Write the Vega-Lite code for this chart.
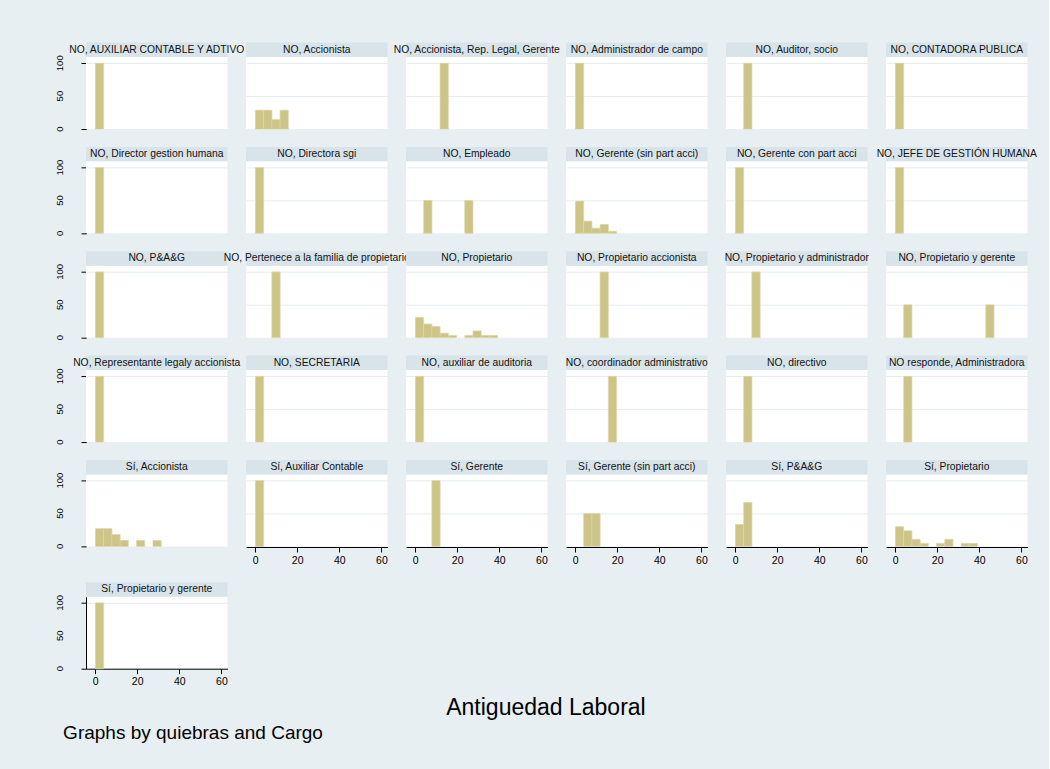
{
  "$schema": "https://vega.github.io/schema/vega-lite/v6.json",
  "background": "#e8eff2",
  "padding": {"left": 55, "top": 41, "right": 12, "bottom": 30},
  "config": {
    "font": "Liberation Sans",
    "view": {"stroke": null, "fill": "white"},
    "title": {"font": "Liberation Sans", "fontWeight": "normal", "color": "black"},
    "axis": {"labelFont": "Liberation Sans", "labelColor": "black"},
    "header": {"labels": false, "title": null, "labelExpr": "''", "labelColor": "transparent", "labelFontSize": 1, "labelPadding": 0, "titlePadding": 0}
  },
  "datasets": {
    "h": [
      {"ord": 1, "panel": "NO, AUXILIAR CONTABLE Y ADTIVO", "start": 0.2, "end": 4.1, "pct": 100},
      {"ord": 2, "panel": "NO, Accionista", "start": 0.2, "end": 4.1, "pct": 28.6},
      {"ord": 2, "panel": "NO, Accionista", "start": 4.1, "end": 8.0, "pct": 28.6},
      {"ord": 2, "panel": "NO, Accionista", "start": 8.0, "end": 11.9, "pct": 14.3},
      {"ord": 2, "panel": "NO, Accionista", "start": 11.9, "end": 15.8, "pct": 28.6},
      {"ord": 3, "panel": "NO, Accionista, Rep. Legal, Gerente", "start": 11.9, "end": 15.8, "pct": 100},
      {"ord": 4, "panel": "NO, Administrador de campo", "start": 0.2, "end": 4.1, "pct": 100},
      {"ord": 5, "panel": "NO, Auditor, socio", "start": 4.1, "end": 8.0, "pct": 100},
      {"ord": 6, "panel": "NO, CONTADORA PUBLICA", "start": 0.2, "end": 4.1, "pct": 100},
      {"ord": 7, "panel": "NO, Director gestion humana", "start": 0.2, "end": 4.1, "pct": 100},
      {"ord": 8, "panel": "NO, Directora sgi", "start": 0.2, "end": 4.1, "pct": 100},
      {"ord": 9, "panel": "NO, Empleado", "start": 4.1, "end": 8.0, "pct": 50},
      {"ord": 9, "panel": "NO, Empleado", "start": 23.6, "end": 27.5, "pct": 50},
      {"ord": 10, "panel": "NO, Gerente (sin part acci)", "start": 0.2, "end": 4.1, "pct": 49},
      {"ord": 10, "panel": "NO, Gerente (sin part acci)", "start": 4.1, "end": 8.0, "pct": 18.6},
      {"ord": 10, "panel": "NO, Gerente (sin part acci)", "start": 8.0, "end": 11.9, "pct": 7.8},
      {"ord": 10, "panel": "NO, Gerente (sin part acci)", "start": 11.9, "end": 15.8, "pct": 13.5},
      {"ord": 10, "panel": "NO, Gerente (sin part acci)", "start": 15.8, "end": 19.7, "pct": 3.1},
      {"ord": 11, "panel": "NO, Gerente con part acci", "start": 0.2, "end": 4.1, "pct": 100},
      {"ord": 12, "panel": "NO, JEFE DE GESTIÓN HUMANA", "start": 0.2, "end": 4.1, "pct": 100},
      {"ord": 13, "panel": "NO, P&A&G", "start": 0.2, "end": 4.1, "pct": 100},
      {"ord": 14, "panel": "NO, Pertenece a la familia de propietario", "start": 8.0, "end": 11.9, "pct": 100},
      {"ord": 15, "panel": "NO, Propietario", "start": 0.2, "end": 4.1, "pct": 31},
      {"ord": 15, "panel": "NO, Propietario", "start": 4.1, "end": 8.0, "pct": 20.7},
      {"ord": 15, "panel": "NO, Propietario", "start": 8.0, "end": 11.9, "pct": 17.2},
      {"ord": 15, "panel": "NO, Propietario", "start": 11.9, "end": 15.8, "pct": 6.9},
      {"ord": 15, "panel": "NO, Propietario", "start": 15.8, "end": 19.7, "pct": 3.4},
      {"ord": 15, "panel": "NO, Propietario", "start": 23.6, "end": 27.5, "pct": 3.4},
      {"ord": 15, "panel": "NO, Propietario", "start": 27.5, "end": 31.4, "pct": 10.3},
      {"ord": 15, "panel": "NO, Propietario", "start": 31.4, "end": 35.3, "pct": 3.4},
      {"ord": 15, "panel": "NO, Propietario", "start": 35.3, "end": 39.2, "pct": 3.4},
      {"ord": 16, "panel": "NO, Propietario accionista", "start": 11.9, "end": 15.8, "pct": 100},
      {"ord": 17, "panel": "NO, Propietario y administrador", "start": 8.0, "end": 11.9, "pct": 100},
      {"ord": 18, "panel": "NO, Propietario y gerente", "start": 4.1, "end": 8.0, "pct": 50},
      {"ord": 18, "panel": "NO, Propietario y gerente", "start": 43.1, "end": 47.0, "pct": 50},
      {"ord": 19, "panel": "NO, Representante legaly accionista", "start": 0.2, "end": 4.1, "pct": 100},
      {"ord": 20, "panel": "NO, SECRETARIA", "start": 0.2, "end": 4.1, "pct": 100},
      {"ord": 21, "panel": "NO, auxiliar de auditoria", "start": 0.2, "end": 4.1, "pct": 100},
      {"ord": 22, "panel": "NO, coordinador administrativo", "start": 15.8, "end": 19.7, "pct": 100},
      {"ord": 23, "panel": "NO, directivo", "start": 4.1, "end": 8.0, "pct": 100},
      {"ord": 24, "panel": "NO responde, Administradora", "start": 4.1, "end": 8.0, "pct": 100},
      {"ord": 25, "panel": "Sí, Accionista", "start": 0.2, "end": 4.1, "pct": 27},
      {"ord": 25, "panel": "Sí, Accionista", "start": 4.1, "end": 8.0, "pct": 27},
      {"ord": 25, "panel": "Sí, Accionista", "start": 8.0, "end": 11.9, "pct": 18},
      {"ord": 25, "panel": "Sí, Accionista", "start": 11.9, "end": 15.8, "pct": 9},
      {"ord": 25, "panel": "Sí, Accionista", "start": 19.7, "end": 23.6, "pct": 9},
      {"ord": 25, "panel": "Sí, Accionista", "start": 27.5, "end": 31.4, "pct": 9},
      {"ord": 26, "panel": "Sí, Auxiliar Contable", "start": 0.2, "end": 4.1, "pct": 100},
      {"ord": 27, "panel": "Sí, Gerente", "start": 8.0, "end": 11.9, "pct": 100},
      {"ord": 28, "panel": "Sí, Gerente (sin part acci)", "start": 4.1, "end": 8.0, "pct": 50},
      {"ord": 28, "panel": "Sí, Gerente (sin part acci)", "start": 8.0, "end": 11.9, "pct": 50},
      {"ord": 29, "panel": "Sí, P&A&G", "start": 0.2, "end": 4.1, "pct": 33.3},
      {"ord": 29, "panel": "Sí, P&A&G", "start": 4.1, "end": 8.0, "pct": 66.7},
      {"ord": 30, "panel": "Sí, Propietario", "start": 0.2, "end": 4.1, "pct": 30},
      {"ord": 30, "panel": "Sí, Propietario", "start": 4.1, "end": 8.0, "pct": 23.7},
      {"ord": 30, "panel": "Sí, Propietario", "start": 8.0, "end": 11.9, "pct": 10.8},
      {"ord": 30, "panel": "Sí, Propietario", "start": 11.9, "end": 15.8, "pct": 4.6},
      {"ord": 30, "panel": "Sí, Propietario", "start": 19.7, "end": 23.6, "pct": 4.6},
      {"ord": 30, "panel": "Sí, Propietario", "start": 23.6, "end": 27.5, "pct": 10.8},
      {"ord": 30, "panel": "Sí, Propietario", "start": 31.4, "end": 35.3, "pct": 4.6},
      {"ord": 30, "panel": "Sí, Propietario", "start": 35.3, "end": 39.2, "pct": 4.6},
      {"ord": 31, "panel": "Sí, Propietario y gerente", "start": 0.2, "end": 4.1, "pct": 100}
    ]
  },
  "title": {"text": "Graphs by quiebras and Cargo", "orient": "bottom", "anchor": "start", "fontSize": 19, "offset": 4, "dx": 8},
  "vconcat": [
    {
      "title": {"text": "Antiguedad Laboral", "orient": "bottom", "anchor": "middle", "fontSize": 23, "offset": 10},
      "spacing": -23.3,
      "hconcat": [
        {
          "spacing": 31.7,
          "vconcat": [
            {
              "data": {"name": "h"},
              "transform": [{"filter": "(datum.ord - 1) % 6 == 0 && datum.ord <= 25"}],
              "facet": {"row": {"field": "panel", "type": "nominal", "sort": {"field": "ord", "op": "min"}, "header": {"labels": false, "title": null, "labelExpr": "''", "labelColor": "transparent", "labelFontSize": 1, "labelPadding": 0, "titlePadding": 0}}},
              "spacing": 32.35,
              "bounds": "flush",
              "spec": {
                "width": 141.5,
                "height": 72,
                "layer": [
                  {
                    "mark": {"type": "rect", "fill": "#cdc487", "stroke": "#ddd6a4", "strokeWidth": 0.7},
                    "encoding": {
                      "x": {"field": "start", "type": "quantitative", "scale": {"domain": [-4.3, 62.9], "nice": false, "zero": false}, "axis": null},
                      "x2": {"field": "end"},
                      "y": {"field": "pct", "type": "quantitative", "scale": {"domain": [0, 109.5], "nice": false},
                        "axis": {"values": [0, 50, 100], "title": null, "grid": true, "gridColor": "#e4edf0", "gridOpacity": {"condition": {"test": "datum.value === 0", "value": 0}, "value": 1}, "domainColor": "black", "tickColor": "black", "tickSize": 5, "labels": false}},
                      "y2": {"datum": 0}
                    }
                  },
                  {
                    "transform": [{"aggregate": [{"op": "count", "as": "n"}], "groupby": ["panel"]}],
                    "mark": {"type": "rect", "fill": "#d8e4ea", "clip": false},
                    "encoding": {
                      "x": {"datum": -4.3, "scale": {"domain": [-4.3, 62.9], "nice": false, "zero": false}},
                      "x2": {"datum": 62.9},
                      "y": {"datum": 109.5, "scale": {"domain": [0, 109.5], "nice": false}},
                      "y2": {"datum": 131.5}
                    }
                  },
                  {
                    "transform": [{"aggregate": [{"op": "count", "as": "n"}], "groupby": ["panel"]}],
                    "mark": {"type": "text", "fontSize": 10.3, "color": "#111111", "baseline": "middle", "align": "center", "clip": false},
                    "encoding": {"x": {"datum": 29.3}, "y": {"datum": 120.5}, "text": {"field": "panel"}}
                  },
                  {
                    "transform": [{"aggregate": [{"op": "count", "as": "n"}], "groupby": ["panel"]}],
                    "mark": {"type": "text", "fontSize": 9.5, "color": "black", "angle": 270, "baseline": "middle", "align": "center", "clip": false},
                    "encoding": {"x": {"datum": -16.6}, "y": {"datum": 0}, "text": {"value": "0"}}
                  },
                  {
                    "transform": [{"aggregate": [{"op": "count", "as": "n"}], "groupby": ["panel"]}],
                    "mark": {"type": "text", "fontSize": 9.5, "color": "black", "angle": 270, "baseline": "middle", "align": "center", "clip": false},
                    "encoding": {"x": {"datum": -16.6}, "y": {"datum": 50}, "text": {"value": "50"}}
                  },
                  {
                    "transform": [{"aggregate": [{"op": "count", "as": "n"}], "groupby": ["panel"]}],
                    "mark": {"type": "text", "fontSize": 9.5, "color": "black", "angle": 270, "baseline": "middle", "align": "center", "clip": false},
                    "encoding": {"x": {"datum": -16.6}, "y": {"datum": 100}, "text": {"value": "100"}}
                  }
                ]
              }
            },
            {
              "data": {"name": "h"},
              "transform": [{"filter": "datum.ord == 31"}],
              "width": 141.5,
              "height": 72,
              "layer": [
                {
                  "mark": {"type": "rect", "fill": "#cdc487", "stroke": "#ddd6a4", "strokeWidth": 0.7},
                  "encoding": {
                    "x": {"field": "start", "type": "quantitative", "scale": {"domain": [-4.3, 62.9], "nice": false, "zero": false},
                      "axis": {"values": [0, 20, 40, 60], "title": null, "grid": false, "domainColor": "black", "tickColor": "black", "tickSize": 5, "labelFontSize": 10.5, "labelPadding": 3, "labelFlush": false}},
                    "x2": {"field": "end"},
                    "y": {"field": "pct", "type": "quantitative", "scale": {"domain": [0, 109.5], "nice": false},
                      "axis": {"values": [0, 50, 100], "title": null, "grid": true, "gridColor": "#e4edf0", "gridOpacity": {"condition": {"test": "datum.value === 0", "value": 0}, "value": 1}, "domainColor": "black", "tickColor": "black", "tickSize": 5, "labels": false}},
                    "y2": {"datum": 0}
                  }
                },
                {
                  "transform": [{"aggregate": [{"op": "count", "as": "n"}], "groupby": ["panel"]}],
                  "mark": {"type": "rect", "fill": "#d8e4ea", "clip": false},
                  "encoding": {
                    "x": {"datum": -4.3, "scale": {"domain": [-4.3, 62.9], "nice": false, "zero": false}},
                    "x2": {"datum": 62.9},
                    "y": {"datum": 109.5, "scale": {"domain": [0, 109.5], "nice": false}},
                    "y2": {"datum": 131.5}
                  }
                },
                {
                  "transform": [{"aggregate": [{"op": "count", "as": "n"}], "groupby": ["panel"]}],
                  "mark": {"type": "text", "fontSize": 10.3, "color": "#111111", "baseline": "middle", "align": "center", "clip": false},
                  "encoding": {"x": {"datum": 29.3}, "y": {"datum": 120.5}, "text": {"field": "panel"}}
                },
                {
                  "transform": [{"aggregate": [{"op": "count", "as": "n"}], "groupby": ["panel"]}],
                  "mark": {"type": "text", "fontSize": 9.5, "color": "black", "angle": 270, "baseline": "middle", "align": "center", "clip": false},
                  "encoding": {"x": {"datum": -16.6}, "y": {"datum": 0}, "text": {"value": "0"}}
                },
                {
                  "transform": [{"aggregate": [{"op": "count", "as": "n"}], "groupby": ["panel"]}],
                  "mark": {"type": "text", "fontSize": 9.5, "color": "black", "angle": 270, "baseline": "middle", "align": "center", "clip": false},
                  "encoding": {"x": {"datum": -16.6}, "y": {"datum": 50}, "text": {"value": "50"}}
                },
                {
                  "transform": [{"aggregate": [{"op": "count", "as": "n"}], "groupby": ["panel"]}],
                  "mark": {"type": "text", "fontSize": 9.5, "color": "black", "angle": 270, "baseline": "middle", "align": "center", "clip": false},
                  "encoding": {"x": {"datum": -16.6}, "y": {"datum": 100}, "text": {"value": "100"}}
                }
              ]
            }
          ]
        },
        {
          "data": {"name": "h"},
          "transform": [{"filter": "(datum.ord - 1) % 6 != 0 && datum.ord <= 30"}],
          "facet": {"field": "panel", "type": "nominal", "sort": {"field": "ord", "op": "min"}, "header": {"labels": false, "title": null, "labelExpr": "''", "labelColor": "transparent", "labelFontSize": 1, "labelPadding": 0, "titlePadding": 0}},
          "columns": 5,
          "spacing": {"row": 32.35, "column": 18.0},
          "bounds": "flush",
          "spec": {
            "width": 141.5,
            "height": 72,
            "layer": [
              {
                "mark": {"type": "rect", "fill": "#cdc487", "stroke": "#ddd6a4", "strokeWidth": 0.7},
                "encoding": {
                  "x": {"field": "start", "type": "quantitative", "scale": {"domain": [-4.3, 62.9], "nice": false, "zero": false},
                    "axis": {"values": [0, 20, 40, 60], "title": null, "grid": false, "domainColor": "black", "tickColor": "black", "tickSize": 5, "labelFontSize": 10.5, "labelPadding": 3, "labelFlush": false}},
                  "x2": {"field": "end"},
                  "y": {"field": "pct", "type": "quantitative", "scale": {"domain": [0, 109.5], "nice": false},
                    "axis": {"values": [50, 100], "title": null, "grid": true, "gridColor": "#e4edf0", "labels": false, "ticks": false, "domain": false}},
                  "y2": {"datum": 0}
                }
              },
              {
                "transform": [{"aggregate": [{"op": "count", "as": "n"}], "groupby": ["panel"]}],
                "mark": {"type": "rect", "fill": "#d8e4ea", "clip": false},
                "encoding": {
                  "x": {"datum": -4.3, "scale": {"domain": [-4.3, 62.9], "nice": false, "zero": false}},
                  "x2": {"datum": 62.9},
                  "y": {"datum": 109.5, "scale": {"domain": [0, 109.5], "nice": false}},
                  "y2": {"datum": 131.5}
                }
              },
              {
                "transform": [{"aggregate": [{"op": "count", "as": "n"}], "groupby": ["panel"]}],
                "mark": {"type": "text", "fontSize": 10.3, "color": "#111111", "baseline": "middle", "align": "center", "clip": false},
                "encoding": {"x": {"datum": 29.3}, "y": {"datum": 120.5}, "text": {"field": "panel"}}
              }
            ]
          }
        }
      ]
    }
  ]
}
